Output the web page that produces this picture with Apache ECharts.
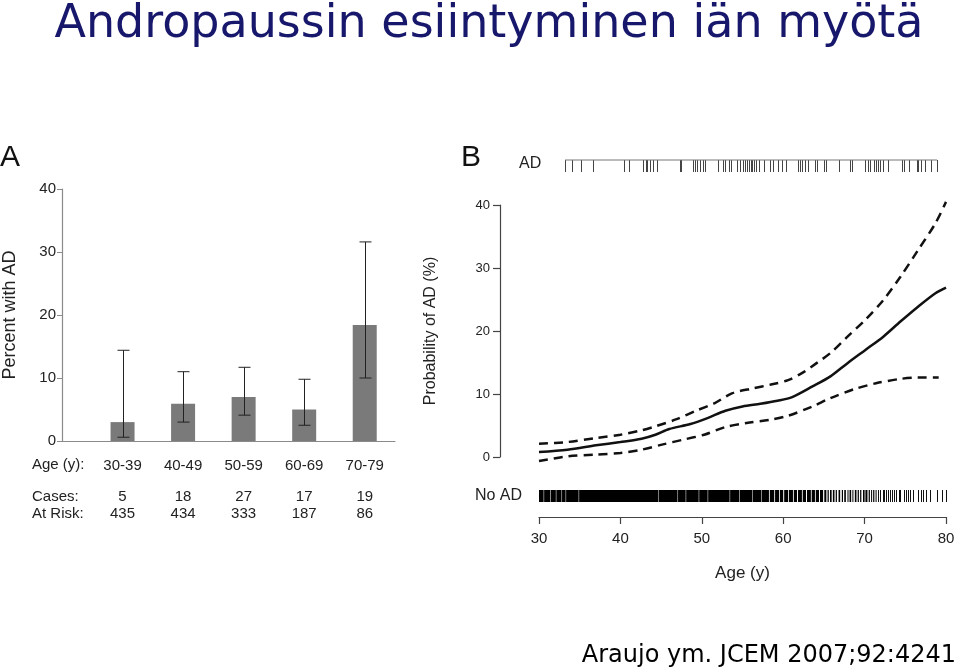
<!DOCTYPE html>
<html><head><meta charset="utf-8">
<script src="https://cdn.jsdelivr.net/npm/echarts@6/dist/echarts.min.js"></script>
<style>html,body{margin:0;padding:0;background:#fff}#c{width:960px;height:672px}</style>
</head><body><div id="c"></div>
<script>
// ---------- Panel A data ----------
const ageGroups = ['30-39', '40-49', '50-59', '60-69', '70-79'];
const percentAD = [3.0, 5.9, 7.0, 5.0, 18.4];
const ciLow = [0.6, 3.0, 4.1, 2.5, 10.0];
const ciHigh = [14.4, 11.0, 11.7, 9.8, 31.6];
const cases = [5, 18, 27, 17, 19];
const atRisk = [435, 434, 333, 187, 86];

// ---------- Panel B data ----------
const midCurve = [[30,0.8],[33.5,1.16],[37,1.85],[40,2.38],[42.6,2.91],[44.3,3.54],[46,4.44],[48.6,5.23],[50.7,6.18],[52.9,7.34],[55,8.03],[57.2,8.45],[59.3,8.93],[61.1,9.51],[63.6,11.2],[65.8,12.8],[67.9,14.9],[70.1,17.0],[72.3,19.1],[74.4,21.5],[76.6,23.9],[78.7,26.0],[80,26.9]];
const upperCurve = [[30,2.1],[33.5,2.38],[37,3.0],[40,3.54],[42.6,4.23],[44.3,4.86],[46.9,6.0],[49.4,7.4],[51.6,8.56],[53.7,10.1],[56.3,10.9],[58.5,11.5],[60.6,12.2],[62.4,13.4],[64.1,14.9],[65.8,16.5],[67.9,19.1],[70.1,21.8],[72.3,24.9],[74.4,28.6],[76.6,32.9],[78.7,37.1],[80,40.5]];
const lowerCurve = [[30,-0.65],[33.5,0.1],[37,0.37],[40,0.63],[42.6,1.16],[45.1,1.96],[47.7,2.75],[50.3,3.54],[52.9,4.76],[55.5,5.39],[58.5,5.92],[60.6,6.55],[63.6,8.03],[65.8,9.35],[68.8,10.8],[71.4,11.7],[74.4,12.4],[76.6,12.6],[79.1,12.6]];
const adAges = [33.2,34.1,35.2,36.6,40.4,41.1,42.8,43.1,43.3,43.6,44.0,44.5,47.3,47.5,48.9,49.2,49.4,49.8,50.2,50.4,52.0,52.6,52.9,53.3,53.6,54.3,54.7,55.0,55.3,55.5,55.8,56.0,56.2,56.4,56.7,57.0,57.6,58.4,58.7,59.4,59.8,60.4,61.8,62.1,62.3,62.7,63.0,63.9,64.2,65.0,65.3,66.8,68.2,68.5,70.0,70.4,70.7,71.1,71.4,71.7,71.9,72.3,72.9,74.6,74.9,75.4,76.4,76.6,76.9,77.4,78.2,78.9];
const noAdBlocks = [[30.0,30.57],[30.63,31.37],[31.43,32.07],[32.13,32.77],[32.83,33.27],[33.33,34.87],[34.93,44.62],[44.68,47.02],[47.08,48.02],[48.08,49.62],[49.68,50.72],[50.78,53.42],[53.48,54.62],[54.68,56.22],[56.28,57.32],[57.38,58.25],[58.35,58.9],[59.0,59.5],[59.6,60.0],[60.12,60.6],[60.7,61.2],[61.3,61.7],[61.82,62.3],[62.4,62.8],[62.92,63.4],[63.5,63.9],[64.0,64.4],[64.52,64.9],[65.05,65.3],[65.45,65.6],[65.75,65.95],[66.1,66.3],[66.45,66.6],[66.8,67.0],[67.2,67.35],[67.5,67.7],[67.9,68.0],[68.15,68.35],[68.5,68.6],[68.8,69.0],[69.15,69.3],[69.45,69.6],[69.8,70.0],[70.1,70.35],[70.5,70.65],[70.8,70.9],[71.05,71.2],[71.35,71.45]];
const noAdTicks = [71.7,71.9,72.2,72.4,72.6,72.9,73.1,73.4,73.6,73.9,74.2,74.4,74.8,75.1,75.3,75.6,76.0,76.5,76.9,77.2,77.5,78.0,78.9,79.5,80.0];

const FONT = '"Liberation Sans", Arial, sans-serif';
const chart = echarts.init(document.getElementById('c'), null, {renderer: 'canvas'});

function tickLine(color) {
  return function (params, api) {
    const p0 = api.coord([api.value(0), 0]);
    const p1 = api.coord([api.value(0), 1]);
    const x = Math.round(p0[0]) + 0.5;
    return {type: 'line', shape: {x1: x, y1: p0[1], x2: x, y2: p1[1]}, style: {stroke: color, lineWidth: 1}};
  };
}

const option = {
  backgroundColor: '#fff',
  animation: false,
  title: {
    text: 'Andropaussin esiintyminen iän myötä',
    left: 484, textAlign: 'center', top: -3,
    textStyle: {fontFamily: '"DejaVu Sans", sans-serif', fontSize: 46, fontWeight: 'normal', color: '#17176b'}
  },
  grid: [
    {left: 61, top: 189, width: 334, height: 252},
    {left: 539, top: 205, width: 407, height: 252},
    {left: 539, top: 160, width: 407, height: 12},
    {left: 539, top: 490, width: 407, height: 12}
  ],
  xAxis: [
    {gridIndex: 0, type: 'value', position: 'bottom', min: -1, max: 4.5, interval: 1,
      axisLine: {show: true, onZero: false, lineStyle: {color: '#8a8a8a', width: 1.2}}, axisTick: {show: false}, splitLine: {show: false},
      axisLabel: {margin: 17, fontFamily: FONT, fontSize: 15, color: '#222',
        formatter: v => (Number.isInteger(v) && v >= 0 && v < ageGroups.length) ? ageGroups[v] : ''}},
    {gridIndex: 0, type: 'value', position: 'bottom', min: -1, max: 4.5, interval: 1, offset: 40,
      axisLine: {show: false, onZero: false}, axisTick: {show: false}, splitLine: {show: false},
      axisLabel: {margin: 7, fontFamily: FONT, fontSize: 15, color: '#222', lineHeight: 17,
        formatter: v => (Number.isInteger(v) && v >= 0 && v < cases.length) ? cases[v] + '\n' + atRisk[v] : ''}},
    {gridIndex: 1, type: 'value', position: 'bottom', min: 30, max: 80, interval: 10, offset: 60,
      name: 'Age (y)', nameLocation: 'middle', nameGap: 48,
      nameTextStyle: {fontFamily: FONT, fontSize: 17, color: '#222'},
      axisLine: {show: true, onZero: false, lineStyle: {color: '#444', width: 1.2}},
      axisTick: {show: true, length: 7, lineStyle: {color: '#444', width: 1.2}},
      splitLine: {show: false},
      axisLabel: {margin: 14, fontFamily: FONT, fontSize: 15, color: '#222'}},
    {gridIndex: 2, type: 'value', min: 30, max: 80, show: false},
    {gridIndex: 3, type: 'value', min: 30, max: 80, show: false}
  ],
  yAxis: [
    {gridIndex: 0, type: 'value', position: 'left', min: 0, max: 40, interval: 10,
      name: 'Percent with AD', nameLocation: 'middle', nameGap: 43, nameRotate: 90,
      nameTextStyle: {fontFamily: FONT, fontSize: 18, color: '#222'},
      axisLine: {show: true, onZero: false, lineStyle: {color: '#8a8a8a', width: 1.2}},
      axisTick: {show: true, length: 5, lineStyle: {color: '#8a8a8a'}}, splitLine: {show: false},
      axisLabel: {margin: 6, fontFamily: FONT, fontSize: 15, color: '#222'}},
    {gridIndex: 1, type: 'value', position: 'left', min: 0, max: 40, interval: 10, offset: 39,
      name: 'Probability of AD (%)', nameLocation: 'middle', nameGap: 61, nameRotate: 90,
      nameTextStyle: {fontFamily: FONT, fontSize: 16, color: '#222'},
      axisLine: {show: true, onZero: false, lineStyle: {color: '#444', width: 1.2}},
      axisTick: {show: true, length: 7, lineStyle: {color: '#444', width: 1.2}}, splitLine: {show: false},
      axisLabel: {margin: 10, fontFamily: FONT, fontSize: 13, color: '#222'}},
    {gridIndex: 2, type: 'value', min: 0, max: 1, show: false},
    {gridIndex: 3, type: 'value', min: 0, max: 1, show: false}
  ],
  series: [
    {type: 'bar', xAxisIndex: 0, yAxisIndex: 0, barWidth: 24,
      itemStyle: {color: '#7a7a7a'},
      data: percentAD.map((v, i) => [i, v])},
    {type: 'custom', xAxisIndex: 0, yAxisIndex: 0, z: 5,
      data: ciLow.map((v, i) => [i, v, ciHigh[i]]),
      renderItem: function (params, api) {
        const lo = api.coord([api.value(0), api.value(1)]);
        const hi = api.coord([api.value(0), api.value(2)]);
        const x = Math.round(lo[0]) + 0.5, w = 6;
        const st = {stroke: '#222', lineWidth: 1};
        return {type: 'group', children: [
          {type: 'line', shape: {x1: x, y1: lo[1], x2: x, y2: hi[1]}, style: st},
          {type: 'line', shape: {x1: x - w, y1: lo[1], x2: x + w, y2: lo[1]}, style: st},
          {type: 'line', shape: {x1: x - w, y1: hi[1], x2: x + w, y2: hi[1]}, style: st}
        ]};
      }},
    {type: 'line', xAxisIndex: 2, yAxisIndex: 1, data: midCurve, smooth: 0.3, symbol: 'none', clip: false,
      lineStyle: {color: '#111', width: 2.5}},
    {type: 'line', xAxisIndex: 2, yAxisIndex: 1, data: upperCurve, smooth: 0.3, symbol: 'none', clip: false,
      lineStyle: {color: '#111', width: 2.5, type: [9, 6]}},
    {type: 'line', xAxisIndex: 2, yAxisIndex: 1, data: lowerCurve, smooth: 0.3, symbol: 'none', clip: false,
      lineStyle: {color: '#111', width: 2.5, type: [9, 6]}},
    {type: 'line', xAxisIndex: 3, yAxisIndex: 2, symbol: 'none', clip: false,
      data: [[Math.min(...adAges), 1], [Math.max(...adAges), 1]],
      lineStyle: {color: '#777', width: 1}},
    {type: 'custom', xAxisIndex: 3, yAxisIndex: 2, clip: false,
      data: adAges.map(a => [a]), renderItem: tickLine('#444')},
    {type: 'custom', xAxisIndex: 4, yAxisIndex: 3,
      data: noAdBlocks,
      renderItem: function (params, api) {
        const a = api.coord([api.value(0), 0]);
        const b = api.coord([api.value(1), 1]);
        return {type: 'rect', shape: {x: a[0], y: b[1], width: Math.max(b[0] - a[0], 1), height: a[1] - b[1]},
          style: {fill: '#000'}};
      }},
    {type: 'custom', xAxisIndex: 4, yAxisIndex: 3,
      data: noAdTicks.map(a => [a]), renderItem: tickLine('#111')}
  ],
  graphic: [
    {type: 'text', left: 0, top: 143, style: {text: 'A', fontFamily: FONT, fontSize: 30, fill: '#111'}},
    {type: 'text', left: 461, top: 143, style: {text: 'B', fontFamily: FONT, fontSize: 30, fill: '#111'}},
    {type: 'text', x: 32, y: 465, style: {text: 'Age (y):', fontFamily: FONT, fontSize: 15, fill: '#222', verticalAlign: 'middle'}},
    {type: 'text', x: 32, y: 497, style: {text: 'Cases:', fontFamily: FONT, fontSize: 15, fill: '#222', verticalAlign: 'middle'}},
    {type: 'text', x: 32, y: 514, style: {text: 'At Risk:', fontFamily: FONT, fontSize: 15, fill: '#222', verticalAlign: 'middle'}},
    {type: 'text', x: 519, y: 164, style: {text: 'AD', fontFamily: FONT, fontSize: 16, fill: '#222', verticalAlign: 'middle'}},
    {type: 'text', x: 522, y: 496, style: {text: 'No AD', fontFamily: FONT, fontSize: 16, fill: '#222', align: 'right', verticalAlign: 'middle'}},
    {type: 'text', x: 956, y: 656, style: {text: 'Araujo ym. JCEM 2007;92:4241', fontFamily: '"DejaVu Sans", sans-serif', fontSize: 24, fill: '#000', align: 'right', verticalAlign: 'middle'}}
  ]
};
chart.setOption(option);
</script>
</body></html>
